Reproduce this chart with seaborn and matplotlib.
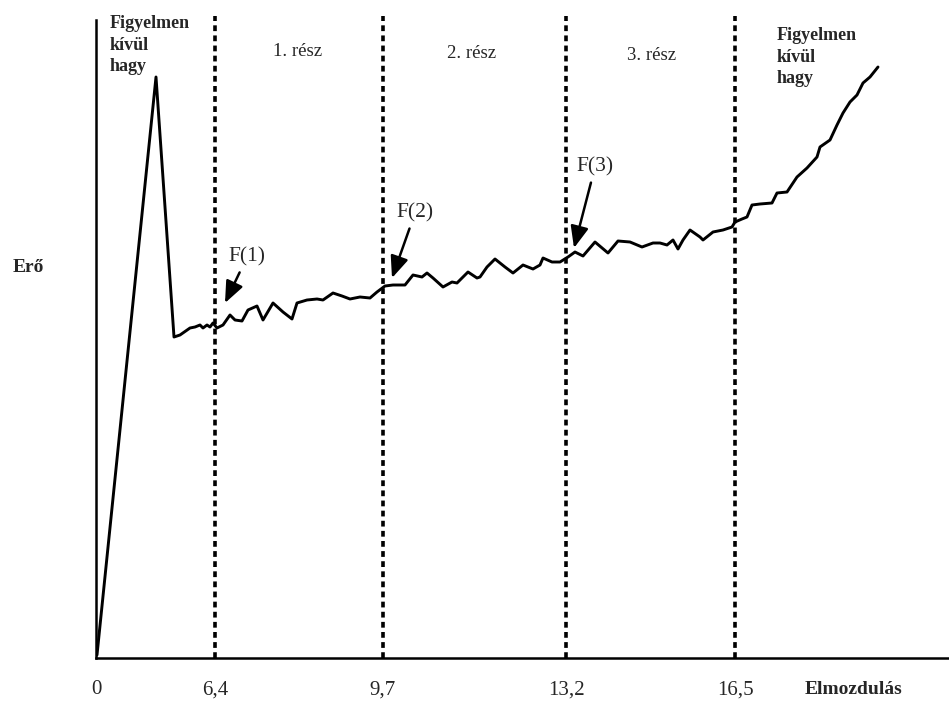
import matplotlib
matplotlib.use("Agg")
import matplotlib.pyplot as plt
import seaborn as sns
import pandas as pd

# ---- data (schematic position units along x, force units along y) ----
curve_x = [1, 60, 78, 84, 94, 99, 104, 107, 111, 114, 117, 121, 127, 134, 139, 146, 152, 161, 167,
           177, 187, 196, 201, 211, 221, 227, 237, 246, 254, 264, 274, 281, 289, 297, 309, 317, 326,
           331, 337, 347, 356, 361, 372, 381, 384, 391, 399, 409, 417, 427, 437, 444, 447, 456, 464,
           472, 479, 487, 499, 512, 522, 534, 546, 557, 564, 571, 577, 582, 587, 594, 604, 607, 617,
           627, 636, 639, 646, 651, 656, 664, 676, 681, 691, 701, 711, 721, 724, 734, 741, 747, 754,
           761, 767, 774, 782]
curve_y = [3, 581, 321, 323, 330, 331, 333, 330, 333, 331, 335, 330, 333, 343, 338, 337, 348, 352, 338,
           355, 346, 339, 355, 358, 359, 358, 365, 362, 359, 361, 360, 366, 372, 373, 373, 383, 381,
           385, 380, 371, 376, 375, 386, 380, 381, 391, 399, 391, 385, 393, 389, 393, 400, 396, 396,
           401, 406, 402, 416, 405, 417, 416, 411, 415, 415, 413, 418, 409, 418, 428, 421, 418, 426,
           428, 431, 436, 439, 441, 453, 454, 455, 465, 466, 481, 490, 501, 511, 518, 533, 545, 556,
           563, 575, 581, 591]

tick_pos = [0, 119, 287, 470, 639]
tick_labels = ["0", "6,4", "9,7", "13,2", "16,5"]
boundaries = [119, 287, 470, 639]

section_labels = ["1. rész", "2. rész", "3. rész"]
section_x = [202, 376, 556]
section_y = [606, 605, 603]

ignore_label = "Figyelmen\nkívül\nhagy"
ignore_x = [14, 681]
ignore_y = [613, 601]

f_labels = ["F(1)", "F(2)", "F(3)"]
f_text_x = [151, 319, 499]
f_text_y = [401, 445, 491]
f_head_x = [129, 296, 478]
f_head_y = [355, 380, 410]

# ---- plotting ----
sns.set_style("white")
plt.rcParams["font.family"] = ["Liberation Serif", "DejaVu Serif"]

fig = plt.figure(figsize=(9.49, 7.04), dpi=100)
ax = fig.add_axes([96 / 949, (704 - 658) / 704, (949 - 96) / 949, (658 - 20) / 704])

df = pd.DataFrame({"x": curve_x, "y": curve_y})
sns.lineplot(data=df, x="x", y="y", ax=ax, color="black", linewidth=2.1, sort=False)

for b in boundaries:
    ax.plot([b, b], [0, 642], color="black", linewidth=2.6,
            linestyle=(0, (1.6, 1.2)), clip_on=False)

ax.set_xlim(0, 853)
ax.set_ylim(0, 638)
ax.set_xticks(tick_pos)
ax.set_xticklabels(tick_labels, fontsize=15)
ax.tick_params(axis="x", length=0, pad=16)
ax.set_yticks([])

for s in ["top", "right"]:
    ax.spines[s].set_visible(False)
for s in ["left", "bottom"]:
    ax.spines[s].set_color("black")
    ax.spines[s].set_linewidth(1.8)

ax.set_xlabel("Elmozdulás", fontsize=14, fontweight="bold")
ax.xaxis.set_label_coords((854 - 96) / 853, -(690 - 658) / 638)
ax.xaxis.label.set_va("center")
ax.set_ylabel("Erő", fontsize=14, fontweight="bold", rotation=0)
ax.yaxis.set_label_coords((28 - 96) / 853, (658 - 267) / 638)
ax.yaxis.label.set_va("center")
ax.yaxis.label.set_ha("center")

for lab, x, y in zip(section_labels, section_x, section_y):
    ax.text(x, y, lab, ha="center", va="center", fontsize=13.5)

for x, y in zip(ignore_x, ignore_y):
    ax.text(x, y, ignore_label, ha="left", va="center", fontsize=13,
            fontweight="bold", linespacing=1.36)

for lab, tx, ty, hx, hy in zip(f_labels, f_text_x, f_text_y, f_head_x, f_head_y):
    ax.annotate(lab, xy=(hx, hy), xytext=(tx, ty), ha="center", va="center", fontsize=15.5,
                arrowprops=dict(arrowstyle="-|>,head_length=0.6,head_width=0.25",
                                color="black", lw=1.8,
                                mutation_scale=22, shrinkA=2, shrinkB=0))

fig.savefig("out.png", dpi=100, facecolor="white")
